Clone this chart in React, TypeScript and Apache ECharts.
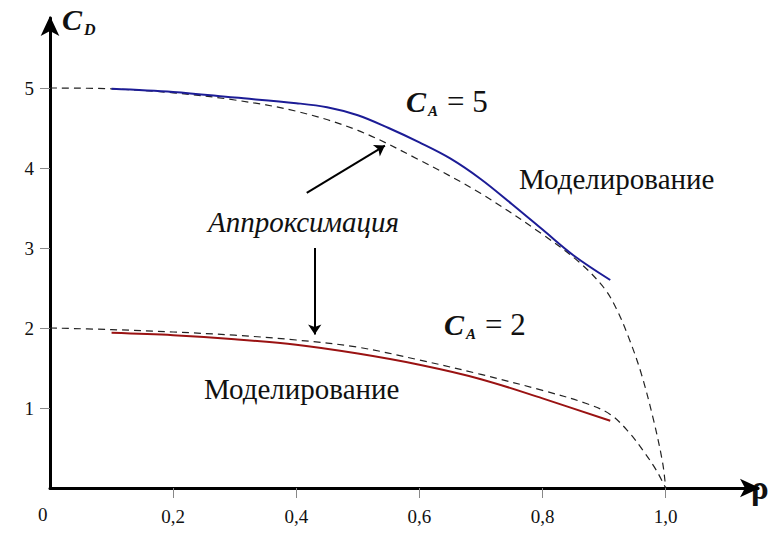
import React, { useEffect, useRef } from "react";
import * as echarts from "echarts";

const xTicks = [0.2, 0.4, 0.6, 0.8, 1.0];
const yTicks = [1, 2, 3, 4, 5];

const modelA5X = [0.1, 0.2, 0.3, 0.4, 0.45, 0.5, 0.55, 0.6, 0.65, 0.7, 0.75, 0.8, 0.85, 0.91];
const modelA5Y = [4.99, 4.95, 4.88, 4.81, 4.76, 4.66, 4.5, 4.32, 4.12, 3.86, 3.55, 3.23, 2.91, 2.6];

const approxA5X = [0, 0.1, 0.2, 0.3, 0.4, 0.5, 0.6, 0.7, 0.8, 0.86, 0.9, 0.92, 0.94, 0.96, 0.98, 0.995, 1.0];
const approxA5Y = [5.0, 4.99, 4.94, 4.85, 4.71, 4.47, 4.1, 3.68, 3.17, 2.82, 2.5, 2.24, 1.88, 1.44, 0.86, 0.32, 0];

const modelA2X = [0.1, 0.2, 0.3, 0.4, 0.5, 0.6, 0.7, 0.8, 0.91];
const modelA2Y = [1.94, 1.91, 1.86, 1.79, 1.68, 1.54, 1.36, 1.12, 0.84];

const approxA2X = [0, 0.1, 0.2, 0.3, 0.4, 0.5, 0.6, 0.7, 0.8, 0.87, 0.91, 0.94, 0.965, 0.985, 1.0];
const approxA2Y = [2.0, 1.98, 1.95, 1.91, 1.85, 1.76, 1.6, 1.42, 1.22, 1.06, 0.92, 0.7, 0.45, 0.22, 0];

const arrowUp = [[0.417, 3.69], [0.544, 4.28]];
const arrowDown = [[0.43, 3.0], [0.43, 1.92]];

const pairs = (xs: number[], ys: number[]) => xs.map((x, i) => [x, ys[i]]);

const serif = "serif";

const txt = (left: number, top: number, text: string, size: number, italic = false, bold = false) => {
  const style: any = { text, fontFamily: serif, fontSize: size, fill: "#111" };
  if (italic) style.fontStyle = "italic";
  if (bold) style.fontWeight = "bold";
  return { type: "text", left, top, style };
};

export default function App() {
  const ref = useRef<HTMLDivElement>(null);
  useEffect(() => {
    document.body.style.margin = "0";
    const chart = echarts.init(ref.current!, null, { renderer: "svg" });
    const dashed = { color: "#222", width: 1.2, type: [7, 5] };
    chart.setOption({
      animation: false,
      backgroundColor: "#ffffff",
      grid: { left: 50, right: 11, top: 18, bottom: 48 },
      xAxis: {
        type: "value",
        min: 0,
        max: 1.15,
        splitLine: { show: false },
        axisLine: {
          show: true,
          lineStyle: { color: "#000", width: 3 },
          symbol: ["none", "arrow"],
          symbolSize: [14, 20],
          symbolOffset: [0, 2],
        },
        axisTick: {
          show: true,
          customValues: xTicks,
          length: 10,
          lineStyle: { color: "#888", width: 1 },
        },
        axisLabel: {
          customValues: xTicks,
          formatter: (v: number) => v.toFixed(1).replace(".", ","),
          fontFamily: serif,
          fontSize: 19,
          color: "#111",
          margin: 19,
        },
      },
      yAxis: {
        type: "value",
        min: 0,
        max: 5.875,
        splitLine: { show: false },
        axisLine: {
          show: true,
          lineStyle: { color: "#000", width: 3 },
          symbol: ["none", "arrow"],
          symbolSize: [14, 20],
          symbolOffset: [0, 2],
        },
        axisTick: {
          show: true,
          customValues: yTicks,
          length: 10,
          lineStyle: { color: "#888", width: 1 },
        },
        axisLabel: {
          customValues: yTicks,
          fontFamily: serif,
          fontSize: 19,
          color: "#111",
          margin: 16,
        },
      },
      series: [
        {
          type: "line",
          name: "approxA5",
          data: pairs(approxA5X, approxA5Y),
          showSymbol: false,
          smooth: 0.35,
          lineStyle: dashed,
          z: 2,
        },
        {
          type: "line",
          name: "approxA2",
          data: pairs(approxA2X, approxA2Y),
          showSymbol: false,
          smooth: 0.35,
          lineStyle: dashed,
          z: 2,
        },
        {
          type: "line",
          name: "modelA5",
          data: pairs(modelA5X, modelA5Y),
          showSymbol: false,
          smooth: 0.35,
          lineStyle: { color: "#1c1c96", width: 2 },
          z: 3,
        },
        {
          type: "line",
          name: "modelA2",
          data: pairs(modelA2X, modelA2Y),
          showSymbol: false,
          smooth: 0.35,
          lineStyle: { color: "#9a1212", width: 2 },
          z: 3,
        },
        {
          type: "lines",
          coordinateSystem: "cartesian2d",
          symbol: ["none", "arrow"],
          symbolSize: 10,
          lineStyle: { color: "#000", width: 2, opacity: 1 },
          data: [{ coords: arrowUp }, { coords: arrowDown }],
          z: 4,
        },
      ],
      graphic: [
        txt(38, 505, "0", 19),
        txt(62, 4, "C", 30, true, true),
        txt(84, 21, "D", 16, true, true),
        txt(751, 471, "ρ", 33, false, true),
        txt(406, 86, "C", 30, true, true),
        txt(428, 103, "A", 15, true, true),
        txt(447, 86, "= 5", 31),
        txt(444, 309, "C", 30, true, true),
        txt(466, 326, "A", 15, true, true),
        txt(485, 309, "= 2", 31),
        txt(519, 164, "Моделирование", 29),
        txt(204, 374, "Моделирование", 29),
        txt(208, 207, "Аппроксимация", 29, true),
      ],
    });
    return () => chart.dispose();
  }, []);
  return <div ref={ref} style={{ width: 769, height: 536 }} />;
}
